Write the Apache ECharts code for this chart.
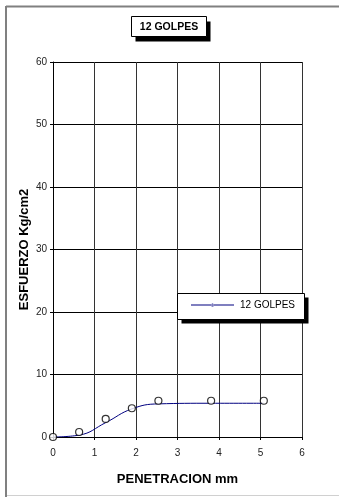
<!DOCTYPE html>
<html>
<head>
<meta charset="utf-8">
<script src="https://cdn.jsdelivr.net/npm/echarts@6/dist/echarts.min.js"></script>
<style>
  html, body { margin: 0; padding: 0; background: #fff; }
  #chart { width: 339px; height: 497px; }
</style>
</head>
<body>
<div id="chart"></div>
<script>
// CBR penetration test, 12 blows per layer
const seriesName = '12 GOLPES';
const penetration = [0, 0.63, 1.27, 1.90, 2.54, 3.81, 5.08];   // mm
const measured = [0, 0.8, 2.9, 4.6, 5.8, 5.8, 5.8];            // kg/cm2, test readings
const fitted = [0, 0.3, 2.3, 4.5, 5.3, 5.4, 5.4];              // kg/cm2, adjusted curve
const xTicks = [0, 1, 2, 3, 4, 5, 6];
const yTicks = [0, 10, 20, 30, 40, 50, 60];

const font = '"Liberation Sans", Arial, sans-serif';
const chart = echarts.init(document.getElementById('chart'), null, { renderer: 'canvas' });

const pairs = (xs, ys) => xs.map((x, i) => [x, ys[i]]);

// framed box with a solid drop shadow
function shadowBox(x, y, w, h, dx, dy) {
  return [
    { type: 'rect', z: 5, silent: true, shape: { x: x + dx, y: y + dy, width: w, height: h }, style: { fill: '#000' } },
    { type: 'rect', z: 6, silent: true, shape: { x: x, y: y, width: w, height: h }, style: { fill: '#fff', stroke: '#000', lineWidth: 1 } }
  ];
}

chart.setOption({
  backgroundColor: '#fff',
  animation: false,
  legend: {
    data: [seriesName],
    left: 191,
    top: 300,
    z: 10,
    padding: 0,
    itemWidth: 43,
    itemHeight: 3,
    itemGap: 6,
    icon: 'path://M0,1 L43,1 L43,2 L0,2 Z M20,1.5 A1.5,1.5 0 1,0 23,1.5 A1.5,1.5 0 1,0 20,1.5 Z',
    textStyle: { fontFamily: font, fontSize: 10, color: '#000', padding: [0, 0, 0, 1] }
  },
  grid: { left: 53, right: 37, top: 62, bottom: 60, containLabel: false },
  xAxis: {
    type: 'value',
    min: xTicks[0],
    max: xTicks[xTicks.length - 1],
    interval: 1,
    name: 'PENETRACION mm',
    nameLocation: 'middle',
    nameGap: 36,
    nameTextStyle: { fontFamily: font, fontSize: 13, fontWeight: 'bold', color: '#000' },
    axisLine: { lineStyle: { color: '#000', width: 1 } },
    axisTick: { show: true, inside: false, length: 3, lineStyle: { color: '#000' } },
    axisLabel: { fontFamily: font, fontSize: 10, color: '#222', margin: 11 },
    splitLine: { show: true, lineStyle: { color: '#333', width: 1 } }
  },
  yAxis: {
    type: 'value',
    min: yTicks[0],
    max: yTicks[yTicks.length - 1],
    interval: 10,
    name: 'ESFUERZO Kg/cm2',
    nameLocation: 'middle',
    nameGap: 22,
    nameMoveOverlap: false,
    nameRotate: 90,
    nameTextStyle: { fontFamily: font, fontSize: 13, fontWeight: 'bold', color: '#000' },
    axisLine: { show: true, lineStyle: { color: '#000', width: 1 } },
    axisTick: { show: true, inside: false, length: 3, lineStyle: { color: '#000' } },
    axisLabel: { fontFamily: font, fontSize: 10, color: '#222', margin: 6 },
    splitLine: { show: true, lineStyle: { color: '#000', width: 1 } }
  },
  series: [
    {
      name: seriesName,
      type: 'line',
      data: pairs(penetration, fitted),
      smooth: 0.45,
      symbol: 'circle',
      symbolSize: 4,
      showSymbol: false,
      itemStyle: { color: '#000080' },
      lineStyle: { color: '#000080', width: 1 },
      z: 3
    },
    {
      name: 'lecturas',
      type: 'scatter',
      data: pairs(penetration, measured),
      symbol: 'circle',
      symbolSize: 7,
      itemStyle: { color: '#fff', borderColor: '#000', borderWidth: 1.2 },
      z: 4
    }
  ],
  graphic: [
    { type: 'line', shape: { x1: 6, y1: 6.5, x2: 339, y2: 6.5 }, style: { stroke: '#808080', lineWidth: 2 }, silent: true },
    { type: 'line', shape: { x1: 6, y1: 6, x2: 6, y2: 497 }, style: { stroke: '#808080', lineWidth: 2 }, silent: true },
    { type: 'line', shape: { x1: 7, y1: 495.5, x2: 339, y2: 495.5 }, style: { stroke: '#d0d0d0', lineWidth: 1 }, silent: true },
    ...shadowBox(131.5, 16.5, 75, 20, 4, 5),
    {
      type: 'text', z: 7, silent: true, x: 169, y: 27,
      style: { text: seriesName, fontFamily: font, fontSize: 10.5, fontWeight: 'bold', fill: '#000', align: 'center', verticalAlign: 'middle' }
    },
    ...shadowBox(177.5, 293.5, 127, 26, 4, 4)
  ]
});
</script>
</body>
</html>
